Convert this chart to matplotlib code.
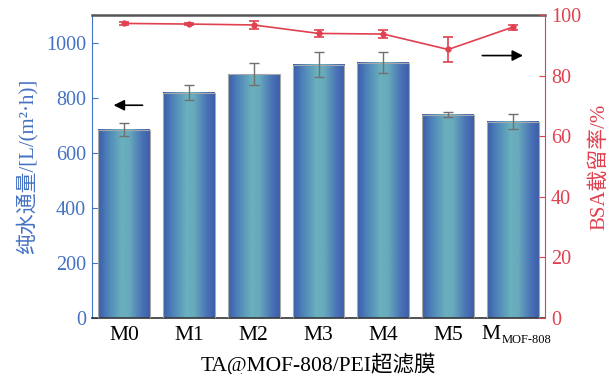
import numpy as np
import matplotlib.pyplot as plt
from matplotlib.colors import LinearSegmentedColormap

plt.rcParams['font.family'] = ['Liberation Serif', 'Noto Sans CJK SC']

# membrane samples (last one gets a subscript drawn separately)
labels = ['M0', 'M1', 'M2', 'M3', 'M4', 'M5', 'M']
last_sub = 'MOF-808'
# pure water flux, L/(m2 h)
flux = [684, 818, 884, 920, 927, 738, 713]
flux_err = [25, 28, 40, 45, 38, 10, 27]
# BSA rejection, %
rejection = [97.2, 97.0, 96.7, 93.9, 93.7, 88.6, 96.0]
rej_err = [0.4, 0.3, 1.3, 1.2, 1.3, 4.0, 0.8]

blue = '#4472c4'
red = '#e0404f'

fig = plt.figure(figsize=(6.12, 3.74), dpi=100)
ax = fig.add_axes([0.150, 0.150, 0.741, 0.810])
x = np.arange(len(labels))
w = 0.8

# gradient fill for each bar
cmap = LinearSegmentedColormap.from_list(
    'bar', [(0, '#3b5ca8'), (0.15, '#4a7cb8'), (0.45, '#6ab0bd'),
            (0.6, '#68aabd'), (0.85, '#4a72b6'), (1, '#3d5ea9')])
grad = np.linspace(0, 1, 200).reshape(1, -1)
bars = ax.bar(x, flux, width=w, color='none', edgecolor='#a8a8a8', linewidth=0.8, zorder=3)
for b, h in zip(bars, flux):
    x0 = b.get_x()
    ax.imshow(grad, cmap=cmap, aspect='auto', extent=[x0, x0 + w, 0, h], zorder=2)
ax.errorbar(x, flux, yerr=flux_err, fmt='none', ecolor='#707070', elinewidth=1,
            capsize=3.5, capthick=1, zorder=4)

ax.set_xlim(-0.5, len(labels) - 0.5)
ax.set_ylim(0, 1100)
ax.set_yticks(range(0, 1001, 200))
ax.set_xticks(x[:-1])
ax.set_xticklabels(labels[:-1], fontsize=15.5)
ax.tick_params(axis='x', length=0, pad=6)
ax.tick_params(axis='y', direction='in', colors=blue, labelsize=14.5, length=4, pad=4)
ax.set_ylabel('纯水通量/[L/(m²·h)]', color=blue, fontsize=15, labelpad=6)
ax.set_xlabel('TA@MOF-808/PEI超滤膜', fontsize=15.5, labelpad=5)
ax.spines['left'].set_color(blue)
ax.spines['top'].set_color('#555555')
ax.spines['top'].set_linewidth(1.8)
ax.spines['bottom'].set_color('#333333')
ax.spines['bottom'].set_linewidth(1.2)
ax.spines['right'].set_visible(False)

# last label: big M with small subscript
ax.annotate(labels[-1], xy=(x[-1], 0), xycoords=('data', 'axes fraction'),
            xytext=(-9, -5), textcoords='offset points', ha='right', va='top',
            fontsize=15.5)
ax.annotate(last_sub, xy=(x[-1], 0), xycoords=('data', 'axes fraction'),
            xytext=(-8, -11.5), textcoords='offset points', ha='left', va='top',
            fontsize=9)

ax2 = ax.twinx()
ax2.errorbar(x, rejection, yerr=rej_err, color=red, linewidth=1.2, marker='o',
             markersize=3.5, capsize=3.5, capthick=1.2, elinewidth=1.2)
ax2.set_ylim(0, 100)
ax2.set_yticks(range(0, 101, 20))
ax2.tick_params(axis='y', direction='in', colors=red, labelsize=14.5, length=4, pad=4)
ax2.set_ylabel('BSA截留率/%', color=red, fontsize=15, labelpad=6)
ax2.spines['right'].set_color(red)
ax2.spines['left'].set_visible(False)
ax2.spines['top'].set_visible(False)
ax2.spines['bottom'].set_visible(False)

# arrows pointing to each axis
arrow = dict(arrowstyle='-|>', color='black', lw=1.2, mutation_scale=16)
ax.annotate('', xy=(0.042, 0.702), xytext=(0.118, 0.702),
            xycoords='axes fraction', arrowprops=arrow)
ax.annotate('', xy=(0.957, 0.866), xytext=(0.855, 0.866),
            xycoords='axes fraction', arrowprops=arrow)

fig.savefig('out.png', dpi=100)
